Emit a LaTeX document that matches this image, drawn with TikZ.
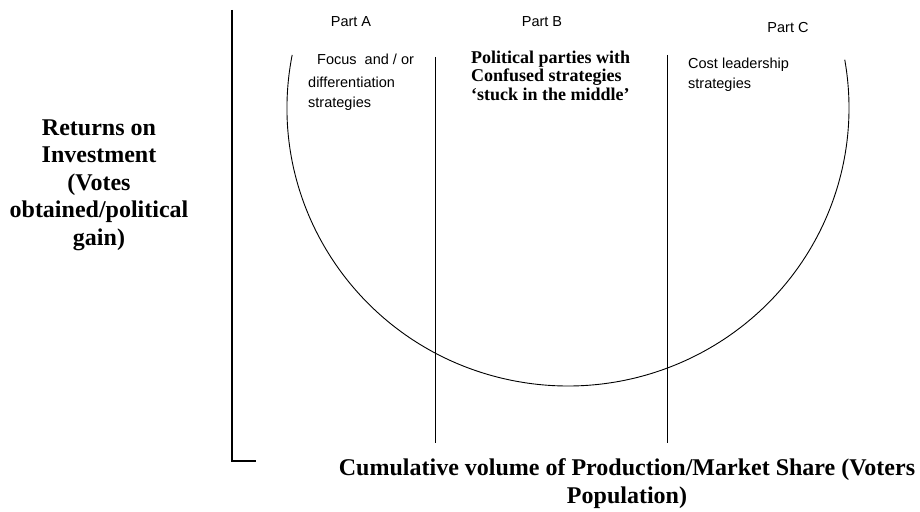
\documentclass[tikz,border=0pt]{standalone}
\usepackage{fontspec}
\setmainfont{Liberation Serif}
\newfontfamily\arialfont{Liberation Sans}
\usetikzlibrary{positioning}

\begin{document}
\begin{tikzpicture}[
    x=1pt, y=-1pt,
    axis/.style={line width=2pt},
    divider/.style={line width=0.9pt},
    curve/.style={line width=0.9pt},
    partlabel/.style={font=\arialfont\fontsize{14.5}{20}\selectfont, inner sep=0pt},
    sanstext/.style={font=\arialfont\fontsize{14.5}{20}\selectfont, align=left, inner sep=0pt, anchor=base west},
    boldtext/.style={font=\bfseries\fontsize{18}{18.5}\selectfont, align=left, inner sep=0pt, anchor=base west},
    axislabel/.style={font=\bfseries\fontsize{24}{27.5}\selectfont, align=center, inner sep=0pt, anchor=base},
]
\useasboundingbox (0,0) rectangle (920,511);

% Axes
\coordinate (ytop) at (232,10);
\coordinate (origin) at (232,461);
\coordinate (xend) at (256,461);
\draw[axis] (ytop) -- (origin) -- (xend);

% Curve
\coordinate (centre) at (568,108);
\draw[curve] (centre) ++(191:281 and 278) arc[start angle=191, end angle=-10, x radius=281, y radius=278];

% Dividers
\coordinate (d1top) at (435,57);
\coordinate (d1bot) at (435,443);
\coordinate (d2top) at (667,55);
\coordinate (d2bot) at (667,443);
\draw[divider] (d1top) -- (d1bot);
\draw[divider] (d2top) -- (d2bot);

% Part labels
\node[partlabel, anchor=base] (partA) at (351,27) {Part A};
\node[partlabel, anchor=base] (partB) at (542,27) {Part B};
\node[partlabel, anchor=base] (partC) at (788,33) {Part C};

% Strategy texts (placed at the baseline of their last line)
\node[sanstext] (focus) at (308,107) {\hspace*{9pt}Focus\ \ and / or\\[3pt]differentiation\\strategies};
\node[boldtext] (stuck) at (471,100) {Political parties with\\Confused strategies\\‘stuck in the middle’};
\node[sanstext] (cost) at (688,88) {Cost leadership\\strategies};

% Axis labels
\node[axislabel] (returns) at (99,245) {Returns on\\Investment\\(Votes\\obtained/political\\gain)};
\node[axislabel] (volume) at (627,503) {Cumulative volume of Production/Market Share (Voters\\Population)};

\end{tikzpicture}
\end{document}
